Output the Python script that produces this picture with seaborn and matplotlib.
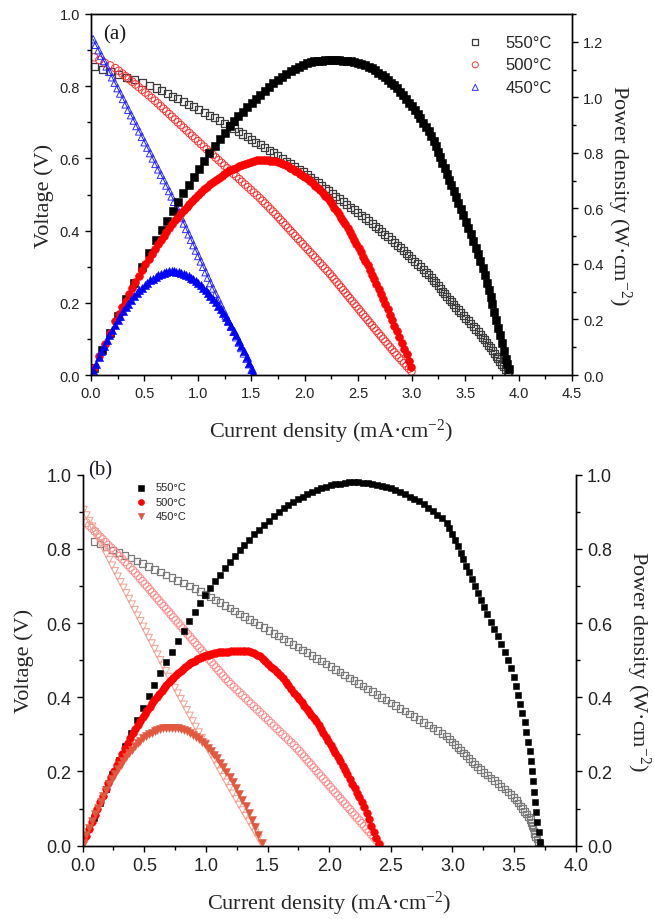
import matplotlib
matplotlib.use("Agg")
import matplotlib.pyplot as plt
import seaborn as sns
from matplotlib.ticker import MultipleLocator, FormatStrFormatter

# ---------------- Panel (a) data ----------------
TEMPS = ["550°C", "500°C", "450°C"]

J_550A = [0.03, 0.18, 0.33, 0.48, 0.613, 0.713, 0.813, 0.913, 1.010, 1.108, 1.205, 1.297, 1.379, 1.461,
          1.543, 1.625, 1.707, 1.789, 1.868, 1.947, 2.022, 2.090, 2.157, 2.224, 2.291, 2.359, 2.428, 2.496,
          2.564, 2.630, 2.689, 2.749, 2.808, 2.867, 2.921, 2.974, 3.028, 3.081, 3.134, 3.184, 3.226, 3.267,
          3.309, 3.351, 3.392, 3.436, 3.483, 3.530, 3.577, 3.624, 3.664, 3.701, 3.738, 3.773, 3.807, 3.842,
          3.881, 3.91]
V_550A = [0.855, 0.840, 0.825, 0.810, 0.795, 0.780, 0.765, 0.750, 0.735, 0.720, 0.705, 0.690, 0.675, 0.660,
          0.645, 0.630, 0.615, 0.600, 0.585, 0.570, 0.555, 0.540, 0.525, 0.510, 0.495, 0.480, 0.465, 0.450,
          0.435, 0.420, 0.405, 0.390, 0.375, 0.360, 0.345, 0.330, 0.315, 0.300, 0.285, 0.270, 0.255, 0.240,
          0.225, 0.210, 0.195, 0.180, 0.165, 0.150, 0.135, 0.120, 0.105, 0.090, 0.075, 0.060, 0.045, 0.030,
          0.015, 0.005]
P_550A = [0.026, 0.151, 0.272, 0.389, 0.487, 0.556, 0.622, 0.685, 0.742, 0.798, 0.850, 0.895, 0.931, 0.964,
          0.995, 1.024, 1.050, 1.073, 1.093, 1.110, 1.122, 1.129, 1.132, 1.134, 1.134, 1.132, 1.129, 1.123,
          1.115, 1.105, 1.089, 1.072, 1.053, 1.032, 1.008, 0.981, 0.954, 0.924, 0.893, 0.860, 0.823, 0.784,
          0.745, 0.704, 0.661, 0.618, 0.575, 0.530, 0.483, 0.435, 0.385, 0.333, 0.280, 0.226, 0.171, 0.115,
          0.058, 0.020]
# intermediate measurement points (between the ones above)
J_550A_MID = [0.105, 0.255, 0.405, 0.547, 0.663, 0.763, 0.863, 0.962, 1.059, 1.157, 1.251, 1.338, 1.420,
              1.502, 1.584, 1.666, 1.748, 1.829, 1.908, 1.985, 2.056, 2.124, 2.191, 2.258, 2.325, 2.394,
              2.462, 2.530, 2.597, 2.660, 2.719, 2.779, 2.838, 2.894, 2.948, 3.001, 3.055, 3.108, 3.159,
              3.205, 3.247, 3.288, 3.330, 3.372, 3.414, 3.460, 3.507, 3.554, 3.601, 3.644, 3.683, 3.720,
              3.756, 3.790, 3.825, 3.862, 3.896]
V_550A_MID = [0.8475, 0.8325, 0.8175, 0.8025, 0.7875, 0.7725, 0.7575, 0.7425, 0.7275, 0.7125, 0.6975,
              0.6825, 0.6675, 0.6525, 0.6375, 0.6225, 0.6075, 0.5925, 0.5775, 0.5625, 0.5475, 0.5325,
              0.5175, 0.5025, 0.4875, 0.4725, 0.4575, 0.4425, 0.4275, 0.4125, 0.3975, 0.3825, 0.3675,
              0.3525, 0.3375, 0.3225, 0.3075, 0.2925, 0.2775, 0.2625, 0.2475, 0.2325, 0.2175, 0.2025,
              0.1875, 0.1725, 0.1575, 0.1425, 0.1275, 0.1125, 0.0975, 0.0825, 0.0675, 0.0525, 0.0375,
              0.0225, 0.010]
P_550A_MID = [0.089, 0.212, 0.331, 0.439, 0.522, 0.589, 0.654, 0.714, 0.770, 0.824, 0.873, 0.913, 0.948,
              0.980, 1.010, 1.037, 1.062, 1.084, 1.102, 1.117, 1.126, 1.131, 1.134, 1.135, 1.133, 1.131,
              1.126, 1.120, 1.110, 1.097, 1.081, 1.063, 1.043, 1.020, 0.995, 0.968, 0.939, 0.909, 0.877,
              0.841, 0.804, 0.764, 0.724, 0.683, 0.640, 0.597, 0.552, 0.506, 0.459, 0.410, 0.359, 0.307,
              0.254, 0.199, 0.143, 0.087, 0.039]

J_500A = [0.030, 0.128, 0.227, 0.293, 0.355, 0.416, 0.478, 0.539, 0.598, 0.652, 0.706, 0.760, 0.813, 0.867,
          0.921, 0.975, 1.029, 1.084, 1.139, 1.194, 1.249, 1.304, 1.359, 1.414, 1.469, 1.525, 1.580, 1.629,
          1.678, 1.727, 1.774, 1.820, 1.866, 1.912, 1.959, 2.005, 2.051, 2.098, 2.144, 2.190, 2.236, 2.277,
          2.319, 2.360, 2.401, 2.443, 2.484, 2.525, 2.567, 2.608, 2.650, 2.692, 2.734, 2.776, 2.818, 2.860,
          2.906, 2.952, 2.998]
V_500A = [0.880, 0.865, 0.850, 0.835, 0.820, 0.805, 0.790, 0.775, 0.760, 0.745, 0.730, 0.715, 0.700, 0.685,
          0.670, 0.655, 0.640, 0.625, 0.610, 0.595, 0.580, 0.565, 0.550, 0.535, 0.520, 0.505, 0.490, 0.475,
          0.460, 0.445, 0.430, 0.415, 0.400, 0.385, 0.370, 0.355, 0.340, 0.325, 0.310, 0.295, 0.280, 0.265,
          0.250, 0.235, 0.220, 0.205, 0.190, 0.175, 0.160, 0.145, 0.130, 0.115, 0.100, 0.085, 0.070, 0.055,
          0.040, 0.025, 0.010]
P_500A = [0.026, 0.111, 0.193, 0.245, 0.291, 0.335, 0.378, 0.418, 0.454, 0.486, 0.515, 0.543, 0.569, 0.594,
          0.617, 0.639, 0.659, 0.678, 0.695, 0.710, 0.724, 0.737, 0.747, 0.756, 0.764, 0.770, 0.774, 0.774,
          0.772, 0.769, 0.763, 0.755, 0.746, 0.736, 0.725, 0.712, 0.697, 0.682, 0.665, 0.646, 0.626, 0.603,
          0.580, 0.555, 0.528, 0.501, 0.472, 0.442, 0.411, 0.378, 0.345, 0.310, 0.273, 0.236, 0.197, 0.157,
          0.116, 0.074, 0.030]
J_500A_MID = [0.079, 0.178, 0.260, 0.324, 0.386, 0.447, 0.509, 0.569, 0.625, 0.679, 0.733, 0.787, 0.840,
              0.894, 0.948, 1.002, 1.057, 1.112, 1.167, 1.222, 1.277, 1.332, 1.387, 1.442, 1.497, 1.553,
              1.605, 1.654, 1.703, 1.751, 1.797, 1.843, 1.889, 1.936, 1.982, 2.028, 2.075, 2.121, 2.167,
              2.213, 2.257, 2.298, 2.340, 2.381, 2.422, 2.464, 2.505, 2.546, 2.588, 2.629, 2.671, 2.713,
              2.755, 2.797, 2.839, 2.883, 2.929, 2.975]
V_500A_MID = [0.8725, 0.8575, 0.8425, 0.8275, 0.8125, 0.7975, 0.7825, 0.7675, 0.7525, 0.7375, 0.7225,
              0.7075, 0.6925, 0.6775, 0.6625, 0.6475, 0.6325, 0.6175, 0.6025, 0.5875, 0.5725, 0.5575,
              0.5425, 0.5275, 0.5125, 0.4975, 0.4825, 0.4675, 0.4525, 0.4375, 0.4225, 0.4075, 0.3925,
              0.3775, 0.3625, 0.3475, 0.3325, 0.3175, 0.3025, 0.2875, 0.2725, 0.2575, 0.2425, 0.2275,
              0.2125, 0.1975, 0.1825, 0.1675, 0.1525, 0.1375, 0.1225, 0.1075, 0.0925, 0.0775, 0.0625,
              0.0475, 0.0325, 0.0175]
P_500A_MID = [0.069, 0.153, 0.219, 0.268, 0.314, 0.356, 0.398, 0.437, 0.470, 0.501, 0.530, 0.557, 0.582,
              0.606, 0.628, 0.649, 0.669, 0.687, 0.703, 0.718, 0.731, 0.743, 0.752, 0.761, 0.767, 0.773,
              0.774, 0.773, 0.771, 0.766, 0.759, 0.751, 0.741, 0.731, 0.718, 0.705, 0.690, 0.673, 0.656,
              0.636, 0.615, 0.592, 0.567, 0.542, 0.515, 0.487, 0.457, 0.426, 0.395, 0.361, 0.327, 0.292,
              0.255, 0.217, 0.177, 0.137, 0.095, 0.052]

J_450A = [0.020, 0.045, 0.071, 0.096, 0.122, 0.147, 0.172, 0.198, 0.223, 0.249, 0.274, 0.300, 0.325, 0.350,
          0.376, 0.401, 0.427, 0.452, 0.477, 0.503, 0.528, 0.554, 0.579, 0.604, 0.630, 0.655, 0.681, 0.706,
          0.732, 0.755, 0.778, 0.800, 0.823, 0.846, 0.869, 0.891, 0.914, 0.937, 0.959, 0.982, 1.005, 1.028,
          1.050, 1.073, 1.095, 1.118, 1.141, 1.165, 1.190, 1.214, 1.238, 1.262, 1.286, 1.311, 1.335, 1.359,
          1.383, 1.407, 1.431, 1.456, 1.480, 1.504, 1.520]
V_450A = [0.930, 0.915, 0.900, 0.885, 0.870, 0.855, 0.840, 0.825, 0.810, 0.795, 0.780, 0.765, 0.750, 0.735,
          0.720, 0.705, 0.690, 0.675, 0.660, 0.645, 0.630, 0.615, 0.600, 0.585, 0.570, 0.555, 0.540, 0.525,
          0.510, 0.495, 0.480, 0.465, 0.450, 0.435, 0.420, 0.405, 0.390, 0.375, 0.360, 0.345, 0.330, 0.315,
          0.300, 0.285, 0.270, 0.255, 0.240, 0.225, 0.210, 0.195, 0.180, 0.165, 0.150, 0.135, 0.120, 0.105,
          0.090, 0.075, 0.060, 0.045, 0.030, 0.015, 0.005]
P_450A = [0.019, 0.041, 0.064, 0.085, 0.106, 0.126, 0.144, 0.163, 0.181, 0.198, 0.214, 0.230, 0.244, 0.257,
          0.271, 0.283, 0.295, 0.305, 0.315, 0.324, 0.333, 0.341, 0.347, 0.353, 0.359, 0.364, 0.368, 0.371,
          0.373, 0.374, 0.373, 0.372, 0.370, 0.368, 0.365, 0.361, 0.356, 0.351, 0.345, 0.339, 0.332, 0.324,
          0.315, 0.306, 0.296, 0.285, 0.274, 0.262, 0.250, 0.237, 0.223, 0.208, 0.193, 0.177, 0.160, 0.143,
          0.124, 0.106, 0.086, 0.066, 0.044, 0.023, 0.008]

# ---------------- Panel (b) data ----------------
J_550B = [0.090, 0.191, 0.293, 0.392, 0.487, 0.582, 0.677, 0.771, 0.866, 0.956, 1.036, 1.115, 1.194, 1.273,
          1.352, 1.432, 1.511, 1.590, 1.669, 1.746, 1.822, 1.898, 1.975, 2.050, 2.125, 2.200, 2.275, 2.350,
          2.425, 2.500, 2.576, 2.652, 2.728, 2.804, 2.879, 2.953, 2.998, 3.044, 3.089, 3.135, 3.180, 3.228,
          3.284, 3.340, 3.396, 3.453, 3.501, 3.534, 3.568, 3.601, 3.632, 3.646, 3.661, 3.675, 3.700, 3.712]
V_550B = [0.820, 0.805, 0.790, 0.775, 0.760, 0.745, 0.730, 0.715, 0.700, 0.685, 0.670, 0.655, 0.640, 0.625,
          0.610, 0.595, 0.580, 0.565, 0.550, 0.535, 0.520, 0.505, 0.490, 0.475, 0.460, 0.445, 0.430, 0.415,
          0.400, 0.385, 0.370, 0.355, 0.340, 0.325, 0.310, 0.295, 0.280, 0.265, 0.250, 0.235, 0.220, 0.205,
          0.190, 0.175, 0.160, 0.145, 0.130, 0.115, 0.100, 0.085, 0.070, 0.055, 0.040, 0.025, 0.010, 0.003]
P_550B = [0.074, 0.154, 0.231, 0.304, 0.370, 0.434, 0.494, 0.551, 0.606, 0.655, 0.694, 0.730, 0.764, 0.796,
          0.825, 0.852, 0.876, 0.898, 0.918, 0.934, 0.947, 0.958, 0.968, 0.974, 0.978, 0.979, 0.978, 0.975,
          0.970, 0.963, 0.953, 0.941, 0.928, 0.911, 0.892, 0.871, 0.839, 0.807, 0.772, 0.737, 0.700, 0.662,
          0.624, 0.585, 0.543, 0.501, 0.455, 0.406, 0.357, 0.306, 0.254, 0.201, 0.146, 0.092, 0.037, 0.011]
J_550B_MID = [0.141, 0.242, 0.343, 0.440, 0.535, 0.630, 0.724, 0.819, 0.911, 0.996, 1.076, 1.155, 1.234,
              1.313, 1.392, 1.472, 1.551, 1.630, 1.708, 1.784, 1.860, 1.937, 2.013, 2.088, 2.163, 2.238,
              2.313, 2.388, 2.463, 2.538, 2.614, 2.690, 2.766, 2.842, 2.916, 2.976, 3.021, 3.067, 3.112,
              3.158, 3.204, 3.256, 3.312, 3.368, 3.425, 3.477, 3.518, 3.551, 3.585, 3.617, 3.639, 3.654,
              3.668, 3.688]
V_550B_MID = [0.8125, 0.7975, 0.7825, 0.7675, 0.7525, 0.7375, 0.7225, 0.7075, 0.6925, 0.6775, 0.6625,
              0.6475, 0.6325, 0.6175, 0.6025, 0.5875, 0.5725, 0.5575, 0.5425, 0.5275, 0.5125, 0.4975,
              0.4825, 0.4675, 0.4525, 0.4375, 0.4225, 0.4075, 0.3925, 0.3775, 0.3625, 0.3475, 0.3325,
              0.3175, 0.3025, 0.2875, 0.2725, 0.2575, 0.2425, 0.2275, 0.2125, 0.1975, 0.1825, 0.1675,
              0.1525, 0.1375, 0.1225, 0.1075, 0.0925, 0.0775, 0.0625, 0.0475, 0.0325, 0.0175]
P_550B_MID = [0.115, 0.193, 0.268, 0.338, 0.403, 0.465, 0.523, 0.579, 0.631, 0.675, 0.713, 0.748, 0.781,
              0.811, 0.839, 0.865, 0.888, 0.909, 0.927, 0.941, 0.953, 0.964, 0.971, 0.976, 0.979, 0.979,
              0.977, 0.973, 0.967, 0.958, 0.948, 0.935, 0.920, 0.902, 0.882, 0.856, 0.823, 0.790, 0.755,
              0.718, 0.681, 0.643, 0.604, 0.564, 0.522, 0.478, 0.431, 0.382, 0.332, 0.280, 0.227, 0.174,
              0.119, 0.065]

J_500B = [0.030, 0.075, 0.119, 0.164, 0.208, 0.253, 0.297, 0.342, 0.386, 0.428, 0.467, 0.505, 0.544, 0.582,
          0.621, 0.659, 0.698, 0.736, 0.775, 0.813, 0.852, 0.891, 0.929, 0.968, 1.006, 1.045, 1.083, 1.122,
          1.160, 1.204, 1.251, 1.297, 1.344, 1.390, 1.437, 1.483, 1.530, 1.576, 1.623, 1.669, 1.716, 1.758,
          1.797, 1.836, 1.875, 1.914, 1.953, 1.992, 2.031, 2.070, 2.109, 2.148, 2.187, 2.226, 2.265, 2.304,
          2.343, 2.382, 2.408]
V_500B = [0.870, 0.855, 0.840, 0.825, 0.810, 0.795, 0.780, 0.765, 0.750, 0.735, 0.720, 0.705, 0.690, 0.675,
          0.660, 0.645, 0.630, 0.615, 0.600, 0.585, 0.570, 0.555, 0.540, 0.525, 0.510, 0.495, 0.480, 0.465,
          0.450, 0.435, 0.420, 0.405, 0.390, 0.375, 0.360, 0.345, 0.330, 0.315, 0.300, 0.285, 0.270, 0.255,
          0.240, 0.225, 0.210, 0.195, 0.180, 0.165, 0.150, 0.135, 0.120, 0.105, 0.090, 0.075, 0.060, 0.045,
          0.030, 0.015, 0.005]
P_500B = [0.026, 0.064, 0.100, 0.135, 0.168, 0.201, 0.232, 0.262, 0.290, 0.315, 0.336, 0.356, 0.375, 0.393,
          0.410, 0.425, 0.440, 0.453, 0.465, 0.476, 0.486, 0.495, 0.502, 0.508, 0.513, 0.517, 0.520, 0.522,
          0.522, 0.524, 0.525, 0.525, 0.524, 0.519, 0.510, 0.498, 0.482, 0.467, 0.451, 0.432, 0.412, 0.394,
          0.377, 0.360, 0.344, 0.325, 0.303, 0.282, 0.260, 0.238, 0.216, 0.192, 0.167, 0.142, 0.118, 0.087,
          0.054, 0.021, 0.005]
J_500B_MID = [0.053, 0.097, 0.142, 0.186, 0.231, 0.275, 0.320, 0.364, 0.407, 0.448, 0.486, 0.525, 0.563,
              0.602, 0.640, 0.679, 0.717, 0.756, 0.794, 0.833, 0.872, 0.910, 0.949, 0.987, 1.026, 1.064,
              1.103, 1.141, 1.182, 1.228, 1.274, 1.321, 1.367, 1.414, 1.460, 1.507, 1.553, 1.600, 1.646,
              1.693, 1.737, 1.778, 1.817, 1.856, 1.895, 1.934, 1.973, 2.012, 2.051, 2.090, 2.129, 2.168,
              2.207, 2.246, 2.285, 2.324, 2.363]
V_500B_MID = [0.8625, 0.8475, 0.8325, 0.8175, 0.8025, 0.7875, 0.7725, 0.7575, 0.7425, 0.7275, 0.7125,
              0.6975, 0.6825, 0.6675, 0.6525, 0.6375, 0.6225, 0.6075, 0.5925, 0.5775, 0.5625, 0.5475,
              0.5325, 0.5175, 0.5025, 0.4875, 0.4725, 0.4575, 0.4425, 0.4275, 0.4125, 0.3975, 0.3825,
              0.3675, 0.3525, 0.3375, 0.3225, 0.3075, 0.2925, 0.2775, 0.2625, 0.2475, 0.2325, 0.2175,
              0.2025, 0.1875, 0.1725, 0.1575, 0.1425, 0.1275, 0.1125, 0.0975, 0.0825, 0.0675, 0.0525,
              0.0375, 0.0225]
P_500B_MID = [0.045, 0.082, 0.118, 0.152, 0.185, 0.217, 0.247, 0.276, 0.303, 0.326, 0.346, 0.366, 0.384,
              0.402, 0.418, 0.433, 0.447, 0.459, 0.471, 0.481, 0.491, 0.499, 0.505, 0.511, 0.515, 0.519,
              0.521, 0.522, 0.523, 0.525, 0.525, 0.525, 0.522, 0.515, 0.504, 0.490, 0.475, 0.459, 0.442,
              0.422, 0.403, 0.386, 0.369, 0.352, 0.335, 0.314, 0.293, 0.271, 0.249, 0.227, 0.204, 0.180,
              0.155, 0.130, 0.103, 0.071, 0.038]

J_450B = [0.008, 0.031, 0.054, 0.077, 0.100, 0.123, 0.146, 0.169, 0.192, 0.215, 0.238, 0.261, 0.284, 0.307,
          0.330, 0.353, 0.376, 0.399, 0.422, 0.445, 0.468, 0.491, 0.514, 0.537, 0.560, 0.583, 0.606, 0.629,
          0.652, 0.675, 0.698, 0.722, 0.747, 0.771, 0.795, 0.820, 0.844, 0.868, 0.892, 0.917, 0.942, 0.967,
          0.992, 1.017, 1.042, 1.067, 1.092, 1.117, 1.142, 1.167, 1.192, 1.218, 1.244, 1.270, 1.296, 1.322,
          1.348, 1.374, 1.400, 1.426, 1.452]
V_450B = [0.905, 0.890, 0.875, 0.860, 0.845, 0.830, 0.815, 0.800, 0.785, 0.770, 0.755, 0.740, 0.725, 0.710,
          0.695, 0.680, 0.665, 0.650, 0.635, 0.620, 0.605, 0.590, 0.575, 0.560, 0.545, 0.530, 0.515, 0.500,
          0.485, 0.470, 0.455, 0.440, 0.425, 0.410, 0.395, 0.380, 0.365, 0.350, 0.335, 0.320, 0.305, 0.290,
          0.275, 0.260, 0.245, 0.230, 0.215, 0.200, 0.185, 0.170, 0.155, 0.140, 0.125, 0.110, 0.095, 0.080,
          0.065, 0.050, 0.035, 0.020, 0.005]
P_450B = [0.007, 0.028, 0.047, 0.066, 0.085, 0.102, 0.119, 0.135, 0.151, 0.166, 0.180, 0.193, 0.206, 0.218,
          0.229, 0.240, 0.250, 0.259, 0.268, 0.276, 0.283, 0.290, 0.296, 0.301, 0.305, 0.309, 0.312, 0.315,
          0.316, 0.317, 0.318, 0.318, 0.317, 0.316, 0.314, 0.312, 0.308, 0.304, 0.299, 0.293, 0.287, 0.280,
          0.273, 0.264, 0.255, 0.245, 0.235, 0.223, 0.211, 0.198, 0.185, 0.171, 0.156, 0.140, 0.123, 0.106,
          0.088, 0.069, 0.049, 0.029, 0.007]

X_LABEL = "Current density (mA·cm$^{-2}$)"
YL_LABEL = "Voltage (V)"
YR_LABEL = "Power density (W·cm$^{-2}$)"

# ---------------- style ----------------
sns.set_style("ticks")
plt.rcParams.update({
    "font.family": ["Liberation Sans", "DejaVu Sans"],
    "mathtext.fontset": "custom",
    "mathtext.rm": "Liberation Serif",
    "mathtext.it": "Liberation Serif:italic",
    "mathtext.bf": "Liberation Serif:bold",
    "mathtext.default": "regular",
    "axes.linewidth": 1.0,
    "axes.edgecolor": "black",
    "xtick.color": "black",
    "ytick.color": "black",
})

SERIF = "Liberation Serif"

fig = plt.figure(figsize=(6.54, 9.2), dpi=100)
axA = fig.add_axes([0.1391, 0.5913, 0.7355, 0.3924])
axA2 = axA.twinx()
axB = fig.add_axes([0.1264, 0.0797, 0.7538, 0.4033])
axB2 = axB.twinx()


def pts(ax, x, y, marker, s, face, edge, lw, label=None):
    sns.scatterplot(x=x, y=y, ax=ax, marker=marker, s=s, facecolor=face,
                    edgecolor=edge, linewidth=lw, label=label, legend=False)


# ---- panel (a) ----
sns.lineplot(x=J_450A, y=V_450A, ax=axA, color="#1a1aff", linewidth=0.7,
             estimator=None, sort=False, legend=False)
pts(axA, J_550A + J_550A_MID, V_550A + V_550A_MID, "s", 26, "none", "#3c3c3c", 0.9, TEMPS[0])
pts(axA, J_500A + J_500A_MID, V_500A + V_500A_MID, "o", 30, "none", "#ff3030", 0.7, TEMPS[1])
pts(axA, J_450A, V_450A, "^", 30, "none", "#3030ff", 0.7, TEMPS[2])
pts(axA2, J_550A + J_550A_MID, P_550A + P_550A_MID, "s", 26, "black", "black", 0.4)
pts(axA2, J_500A + J_500A_MID, P_500A + P_500A_MID, "o", 32, "#ff0000", "#ff0000", 0.4)
pts(axA2, J_450A, P_450A, "^", 34, "#0000ff", "#0000ff", 0.4)

# ---- panel (b) ----
pts(axB, J_550B + J_550B_MID, V_550B + V_550B_MID, "s", 22, "none", "#7a7a7a", 0.9)
pts(axB, J_500B + J_500B_MID, V_500B + V_500B_MID, "o", 32, "none", "#ff8c8c", 0.7)
pts(axB, J_450B, V_450B, "v", 28, "none", "#f4a090", 0.7)
pts(axB2, J_550B + J_550B_MID, P_550B + P_550B_MID, "s", 24, "black", "black", 0.4, TEMPS[0])
pts(axB2, J_500B + J_500B_MID, P_500B + P_500B_MID, "o", 30, "#ff0000", "#ff0000", 0.4, TEMPS[1])
pts(axB2, J_450B, P_450B, "v", 32, "#e2583e", "#e2583e", 0.4, TEMPS[2])


def style_axes(ax, ax2, xmax, ymax_r, rmajor, tick_fs, top_spine):
    ax.set_xlim(0, xmax)
    ax.set_ylim(0, 1.0)
    ax2.set_ylim(0, ymax_r)
    ax.xaxis.set_major_locator(MultipleLocator(0.5))
    ax.xaxis.set_minor_locator(MultipleLocator(0.25))
    ax.yaxis.set_major_locator(MultipleLocator(0.2))
    ax.yaxis.set_minor_locator(MultipleLocator(0.1))
    ax2.yaxis.set_major_locator(MultipleLocator(rmajor))
    ax2.yaxis.set_minor_locator(MultipleLocator(rmajor / 2))
    for a in (ax, ax2):
        a.xaxis.set_major_formatter(FormatStrFormatter("%.1f"))
        a.yaxis.set_major_formatter(FormatStrFormatter("%.1f"))
        a.tick_params(which="major", direction="out", length=4.5, width=1.0,
                      labelsize=tick_fs, labelcolor="#222222")
        a.tick_params(which="minor", direction="out", length=2.8, width=1.0)
        a.spines["top"].set_visible(top_spine)
        a.spines["right"].set_visible(True)
        a.set_xlabel("")
        a.set_ylabel("")
    ax.tick_params(axis="y", which="both", right=False)
    ax2.tick_params(axis="y", which="both", right=True, left=False)


style_axes(axA, axA2, 4.5, 1.3, 0.2, 10.5, True)
style_axes(axB, axB2, 4.0, 1.0, 0.2, 13, False)
axA2.set_yticks([0.0, 0.2, 0.4, 0.6, 0.8, 1.0, 1.2])

axA.set_xlabel(X_LABEL, fontfamily=SERIF, fontsize=16, labelpad=12)
axA.set_ylabel(YL_LABEL, fontfamily=SERIF, fontsize=16, labelpad=4)
axA2.set_ylabel(YR_LABEL, fontfamily=SERIF, fontsize=16, rotation=270, labelpad=21)
axB.set_xlabel(X_LABEL, fontfamily=SERIF, fontsize=16, labelpad=11)
axB.set_ylabel(YL_LABEL, fontfamily=SERIF, fontsize=16, labelpad=9)
axB2.set_ylabel(YR_LABEL, fontfamily=SERIF, fontsize=16, rotation=270, labelpad=29)

axA.text(0.025, 0.945, "(a)", transform=axA.transAxes, fontfamily=SERIF,
         fontsize=15, va="center", ha="left", color="#1a1a1a")
axB.text(0.011, 1.013, "(b)", transform=axB.transAxes, fontfamily=SERIF,
         fontsize=15, va="center", ha="left", color="#1a1a2a")

axA.legend(loc="upper left", bbox_to_anchor=(0.74, 0.975), frameon=False,
           fontsize=12, handletextpad=0.8, labelspacing=0.45, markerscale=0.8,
           borderpad=0.2)
axB2.legend(loc="upper left", bbox_to_anchor=(0.08, 1.0), frameon=False,
            fontsize=8, handletextpad=0.3, labelspacing=0.4, markerscale=0.8,
            borderpad=0.2)

fig.savefig("out.png", dpi=100)
